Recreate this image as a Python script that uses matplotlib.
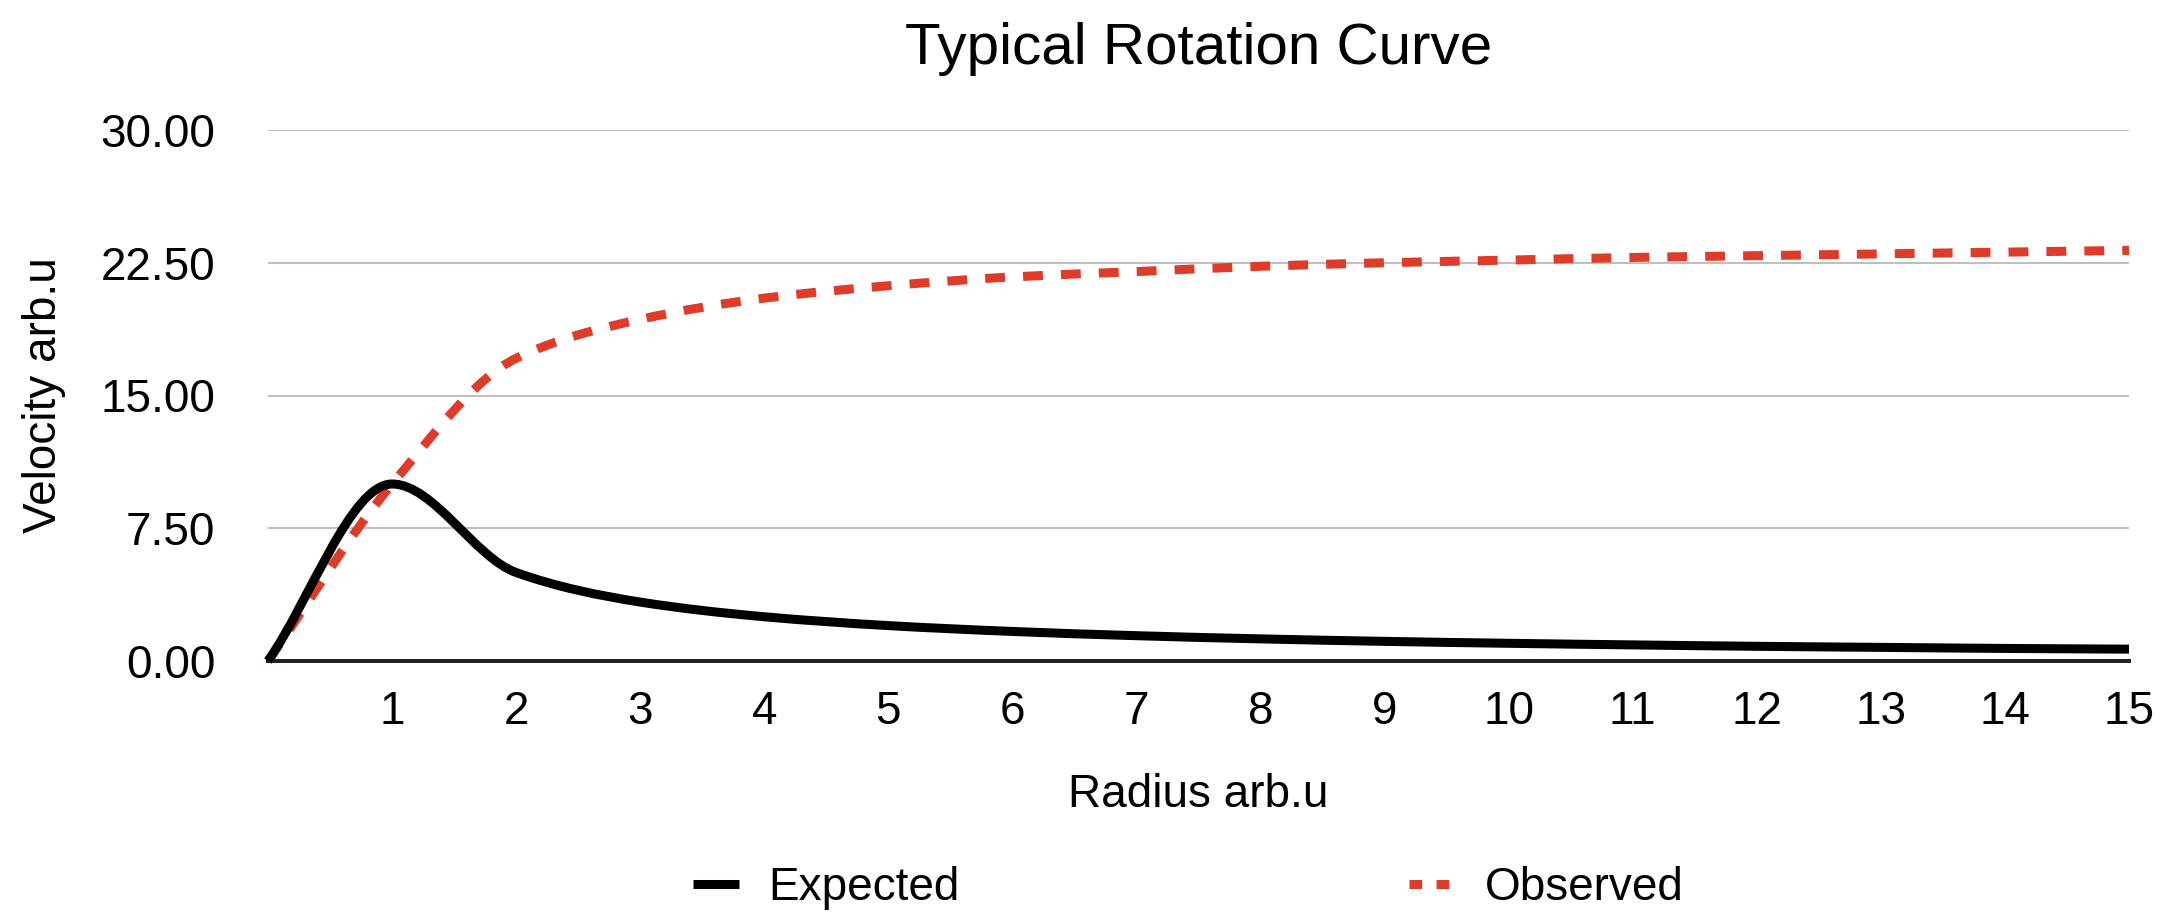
import numpy as np
import matplotlib
matplotlib.use("Agg")
import matplotlib.pyplot as plt
from matplotlib.path import Path
from matplotlib.patches import PathPatch
from matplotlib.lines import Line2D

plt.rcParams["font.family"] = ["Liberation Sans", "DejaVu Sans"]

# ==========================
# Data
# ==========================

radius = [0, 1, 2, 3, 4, 5, 6, 7, 8, 9, 10, 11, 12, 13, 14, 15]
expected = [0, 10.0, 5.0, 3.33, 2.5, 2.0, 1.67, 1.43, 1.25, 1.11,
            1.0, 0.91, 0.83, 0.77, 0.71, 0.67]
observed = [0, 10.0, 17.1, 19.3, 20.5, 21.2, 21.7, 22.0, 22.3, 22.5,
            22.65, 22.8, 22.9, 23.0, 23.1, 23.2]

yticks = [0, 7.5, 15, 22.5, 30]

red = "#de3c29"


def smooth_path(xs, ys):
    # smoothed line through the points: monotone cubic (harmonic-mean
    # tangents), written as bezier segments
    xs = np.asarray(xs, float)
    ys = np.asarray(ys, float)
    d = np.diff(ys) / np.diff(xs)
    m = np.empty_like(ys)
    m[0], m[-1] = d[0], d[-1]
    for i in range(1, len(xs) - 1):
        a, b = d[i - 1], d[i]
        m[i] = 0.0 if a * b <= 0 else 2 * a * b / (a + b)
    verts = [(xs[0], ys[0])]
    codes = [Path.MOVETO]
    for i in range(len(xs) - 1):
        h = xs[i + 1] - xs[i]
        verts += [(xs[i] + h / 3, ys[i] + m[i] * h / 3),
                  (xs[i + 1] - h / 3, ys[i + 1] - m[i + 1] * h / 3),
                  (xs[i + 1], ys[i + 1])]
        codes += [Path.CURVE4] * 3
    return Path(verts, codes)


W, H = 2169, 923
fig = plt.figure(figsize=(W / 100, H / 100), dpi=100)
x0, x1, ytop, ybot = 268, 2129, 130, 661
ax = fig.add_axes([x0 / W, 1 - ybot / H, (x1 - x0) / W, (ybot - ytop) / H])

ax.set_xlim(0, 15)
ax.set_ylim(0, 30)

ax.add_patch(PathPatch(smooth_path(radius, observed), fill=False,
                       edgecolor=red, lw=6.5, linestyle=(0, (2.2, 2.0)),
                       capstyle="butt", clip_on=False, zorder=3))
ax.add_patch(PathPatch(smooth_path(radius, expected), fill=False,
                       edgecolor="black", lw=6.5, capstyle="butt",
                       joinstyle="round", clip_on=False, zorder=4))

ax.set_xticks(radius[1:])
ax.set_yticks(yticks)
ax.set_yticklabels([f"{v:.2f}" for v in yticks])
ax.tick_params(axis="both", length=0, labelsize=33)
ax.tick_params(axis="y", pad=38)
ax.tick_params(axis="x", pad=21)

ax.grid(True, axis="y", color="#bfbfbf", lw=1.5)
ax.set_axisbelow(True)
for s in ["top", "left", "right"]:
    ax.spines[s].set_visible(False)
ax.spines["bottom"].set_color("#222222")
ax.spines["bottom"].set_linewidth(2.9)
ax.spines["bottom"].set_zorder(2)

ax.set_title("Typical Rotation Curve", fontsize=42, y=(ybot - 64) / (ybot - ytop),
             pad=0, va="baseline")
ax.set_xlabel("Radius arb.u", fontsize=33, va="center")
ax.xaxis.set_label_coords(0.5, (ybot - 795) / (ybot - ytop))
ax.set_ylabel("Velocity arb.u", fontsize=33, va="center")
ax.yaxis.set_label_coords((44 - x0) / (x1 - x0), 0.5)

handles = [Line2D([], [], color="black", lw=6.5, solid_capstyle="butt"),
           Line2D([], [], color=red, lw=6.5, dashes=(1.4, 1.6), dash_capstyle="butt")]
fig.legend(handles, ["Expected", "Observed"], loc="center",
           bbox_to_anchor=(1188 / W, 1 - 888 / H), ncol=2, frameon=False,
           fontsize=33, handlelength=1.0, handletextpad=0.65, columnspacing=9.8)

fig.savefig("out.png", dpi=100)
